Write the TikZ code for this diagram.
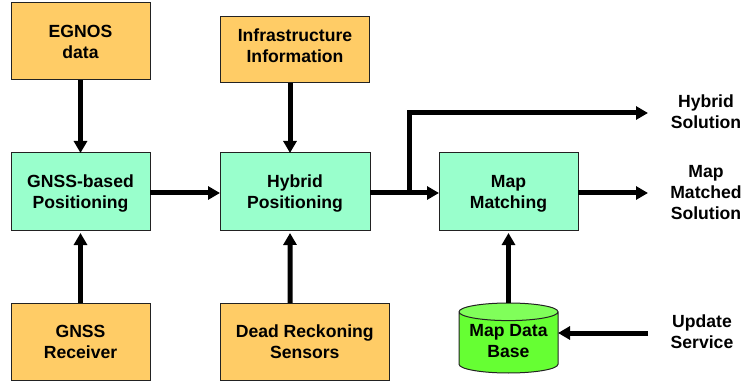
\documentclass[tikz,border=0pt]{standalone}
\usepackage{fontspec}
\setmainfont{Liberation Sans}
\usetikzlibrary{arrows.meta}
\usetikzlibrary{positioning}
\usetikzlibrary{shapes.geometric}
\definecolor{inputfill}{HTML}{FFCC66}
\definecolor{stagefill}{HTML}{99FFCC}
\definecolor{dbbody}{HTML}{66FF33}
\definecolor{dbtop}{HTML}{80FF5A}
\definecolor{edgeline}{HTML}{222222}
\tikzset{->, > = {Triangle[length = 12pt, width = 13pt]}, node distance = 70pt,
  every node/.style = {font = \fontsize{17.6}{21}\selectfont\bfseries, align = center, outer sep = 0pt},
  flow/.style = {line width = 5pt},
  gap/.style = {shorten > = 3pt},
  input/.style = {draw = edgeline, line width = 1pt, fill = inputfill, minimum width = 139pt, minimum height = 77pt, inner sep = 0pt},
  stage/.style = {input, fill = stagefill},
  database/.style = {cylinder, shape border rotate = 90, aspect = 0.5, draw = edgeline, line width = 1pt,
    cylinder uses custom fill, cylinder body fill = dbbody, cylinder end fill = dbtop,
    minimum width = 99pt, minimum height = 70pt, inner sep = 0pt}}
\begin{document}
\begin{tikzpicture}[x = 1pt, y = 1pt]
  \useasboundingbox (0, 0) rectangle (742, -385);
  % nodes
  \node [stage] (gnss) at (80.5, -191.5) {GNSS-based\\\smash{Positioning}};
  \node [input, above = 73pt of gnss] (egnos) {EGNOS\\data};
  \node [input, below = 73pt of gnss] (receiver) {GNSS\\Receiver};
  \node [stage, right = of gnss, minimum width = 150pt] (hybrid) {Hybrid\\\smash{Positioning}};
  \node [input, above = of hybrid, minimum width = 149pt, minimum height = 66pt] (infra) {Infrastructure\\Information\\[-12pt]\mbox{}};
  \node [input, below right = 73pt and 0pt of hybrid.south west, minimum width = 169.5pt] (dead) {Dead Reckoning\\Sensors};
  \node [stage, right = 69pt of hybrid] (match) {Map\\\smash{Matching}};
  \node [database, below = 73pt of match] (base) {\phantom{Map}};
  \node (basetext) at (508.5, -341.5) {Map Data\\Base};
  % outputs
  \node (hybridout) at (706, -112) {Hybrid\\Solution};
  \node (matchout) at (706, -192.5) {Map\\Matched\\Solution};
  \node (update) at (702, -331.5) {Update\\Service};
  \coordinate (branch) at (409, -193);
  \coordinate (hybridend) at (648, -113);
  \coordinate (matchend) at (648, -193);
  \coordinate (updateend) at (648, -333);
  % arrows
  \draw [flow] (egnos) -- (gnss);
  \draw [flow, gap] (receiver) -- (gnss);
  \draw [flow] ([xshift = -5pt] infra.south) -- ([xshift = -5pt] hybrid.north);
  \draw [flow, gap] ([xshift = -14.7pt] dead.north) -- ([xshift = -5pt] hybrid.south);
  \draw [flow] ([yshift = -1.5pt] gnss.east) -- ([yshift = -1.5pt] hybrid.west);
  \draw [flow] ([yshift = -1.5pt] hybrid.east) -- ([yshift = -1.5pt] match.west);
  \draw [flow] (branch) |- (hybridend);
  \draw [flow] ([yshift = -1.5pt] match.east) -- (matchend);
  \draw [flow, gap] (base.north) -- (match);
  \draw [flow] (updateend) -- (updateend -| base.east);
\end{tikzpicture}
\end{document}
